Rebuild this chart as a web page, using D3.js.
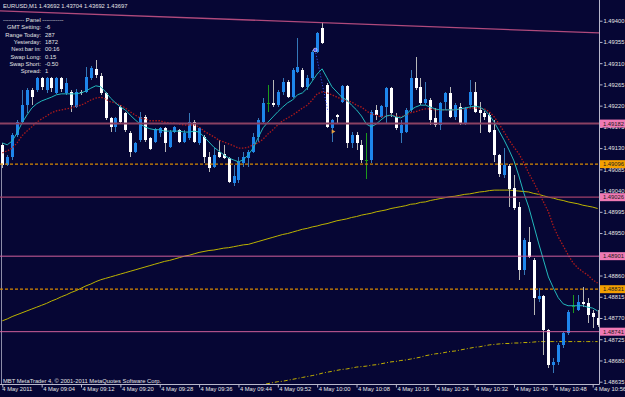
<!DOCTYPE html>
<html><head><meta charset="utf-8">
<script src="https://cdn.jsdelivr.net/npm/d3@7"></script>
<style>
html,body{margin:0;padding:0;background:#060634;overflow:hidden}
svg{display:block}
text{font-family:"Liberation Sans",Arial,sans-serif;font-size:5.8px;fill:#e4e4e4}
</style></head><body>
<svg id="c" width="625" height="397"></svg>
<script>
// ---------------- DATA ----------------
const headerText = "EURUSD,M1  1.43692 1.43704 1.43692 1.43697";
const panelTitle = "----------- Panel -----------";
const panelLabels = ["GMT Setting:", "Range Today:", "Yesterday:", "Next bar in:", "Swap Long:", "Swap Short:", "Spread:"];
const panelValues = ["-6", "287", "1872", "00:16", "0.15", "-0.50", "1"];
const copyright = "MBT MetaTrader 4, \u00A9 2001-2011 MetaQuotes Software Corp.";

const timeTicks = [0, 8, 16, 24, 32, 40, 48, 56, 64, 72, 80, 88, 96, 104, 112, 120];
const timeLabels = ["4 May 2011", "4 May 09:04", "4 May 09:12", "4 May 09:20", "4 May 09:28", "4 May 09:36",
  "4 May 09:44", "4 May 09:52", "4 May 10:00", "4 May 10:08", "4 May 10:16", "4 May 10:24", "4 May 10:32",
  "4 May 10:40", "4 May 10:48", "4 May 10:56"];
const priceTicks = [1.49400, 1.49355, 1.49310, 1.49265, 1.49220, 1.49175, 1.49130, 1.49085, 1.49040,
  1.48995, 1.48950, 1.48905, 1.48860, 1.48815, 1.48770, 1.48725, 1.48680, 1.48635];

const opens = [1.49137,1.49094,1.49111,1.49158,1.49185,1.49221,1.49253,1.49253,1.49279,1.49253,
1.49279,1.49247,1.49279,1.49247,1.49249,1.49217,1.49249,1.49249,1.49279,1.49298,
1.49283,1.49247,1.49194,1.49175,1.49217,1.49205,1.49162,1.49122,1.49147,1.49196,
1.49152,1.49143,1.49162,1.49173,1.49132,1.49164,1.49169,1.49143,1.49152,1.49185,
1.49141,1.49154,1.49111,1.49090,1.49122,1.49118,1.49109,1.49056,1.49063,1.49099,
1.49109,1.49122,1.49154,1.49185,1.49226,1.49226,1.49221,1.49249,1.49270,1.49238,
1.49291,1.49296,1.49260,1.49279,1.49334,1.49385,1.49264,1.49173,1.49200,1.49228,
1.49262,1.49141,1.49158,1.49137,1.49105,1.49105,1.49211,1.49196,1.49217,1.49257,
1.49196,1.49162,1.49164,1.49211,1.49279,1.49260,1.49226,1.49232,1.49194,1.49179,
1.49228,1.49247,1.49196,1.49217,1.49183,1.49221,1.49249,1.49211,1.49205,1.49200,
1.49169,1.49116,1.49073,1.49092,1.49046,1.49005,1.48872,1.48931,1.48893,1.48810,
1.48817,1.48745,1.48671,1.48677,1.48713,1.48738,1.48796,1.48787,1.48804,1.48802,
1.48781,1.48770];
const highs = [1.49141,1.49116,1.49162,1.49190,1.49253,1.49257,1.49257,1.49281,1.49281,1.49281,
1.49281,1.49281,1.49281,1.49279,1.49253,1.49255,1.49253,1.49302,1.49304,1.49317,
1.49289,1.49249,1.49196,1.49196,1.49221,1.49207,1.49166,1.49143,1.49207,1.49200,
1.49154,1.49173,1.49175,1.49175,1.49169,1.49177,1.49171,1.49169,1.49205,1.49190,
1.49175,1.49158,1.49122,1.49130,1.49147,1.49137,1.49111,1.49094,1.49111,1.49122,
1.49126,1.49162,1.49194,1.49236,1.49264,1.49274,1.49253,1.49279,1.49274,1.49300,
1.49363,1.49300,1.49285,1.49338,1.49376,1.49397,1.49268,1.49192,1.49202,1.49264,
1.49264,1.49164,1.49164,1.49147,1.49162,1.49211,1.49221,1.49221,1.49260,1.49260,
1.49205,1.49190,1.49215,1.49296,1.49323,1.49279,1.49270,1.49236,1.49215,1.49228,
1.49249,1.49260,1.49226,1.49226,1.49217,1.49274,1.49270,1.49228,1.49209,1.49207,
1.49190,1.49118,1.49130,1.49096,1.49073,1.49016,1.48940,1.48963,1.48897,1.48834,
1.48819,1.48747,1.48685,1.48717,1.48740,1.48787,1.48819,1.48819,1.48836,1.48813,
1.48787,1.48787];
const lows = [1.49088,1.49092,1.49105,1.49154,1.49183,1.49205,1.49221,1.49249,1.49253,1.49247,
1.49249,1.49245,1.49249,1.49243,1.49207,1.49215,1.49243,1.49247,1.49274,1.49279,
1.49243,1.49190,1.49164,1.49164,1.49183,1.49164,1.49111,1.49120,1.49143,1.49143,
1.49126,1.49141,1.49154,1.49122,1.49130,1.49162,1.49141,1.49141,1.49147,1.49141,
1.49137,1.49099,1.49079,1.49088,1.49109,1.49107,1.49056,1.49050,1.49056,1.49090,
1.49090,1.49120,1.49143,1.49183,1.49207,1.49217,1.49217,1.49243,1.49236,1.49236,
1.49289,1.49257,1.49253,1.49274,1.49332,1.49351,1.49173,1.49143,1.49183,1.49226,
1.49130,1.49130,1.49126,1.49099,1.49065,1.49099,1.49190,1.49194,1.49183,1.49196,
1.49169,1.49141,1.49162,1.49207,1.49253,1.49221,1.49221,1.49179,1.49175,1.49169,
1.49211,1.49194,1.49190,1.49179,1.49179,1.49217,1.49205,1.49162,1.49190,1.49162,
1.49101,1.49069,1.49067,1.49005,1.48999,1.48851,1.48861,1.48897,1.48776,1.48804,
1.48692,1.48664,1.48654,1.48671,1.48707,1.48734,1.48781,1.48785,1.48793,1.48760,
1.48749,1.48751];
const closes = [1.49094,1.49111,1.49158,1.49185,1.49221,1.49253,1.49238,1.49279,1.49260,1.49279,
1.49257,1.49279,1.49255,1.49268,1.49221,1.49249,1.49247,1.49281,1.49300,1.49285,
1.49247,1.49194,1.49175,1.49194,1.49185,1.49169,1.49122,1.49141,1.49196,1.49147,
1.49128,1.49171,1.49173,1.49141,1.49164,1.49175,1.49143,1.49162,1.49185,1.49143,
1.49173,1.49111,1.49088,1.49116,1.49111,1.49109,1.49058,1.49071,1.49101,1.49111,
1.49122,1.49154,1.49190,1.49226,1.49226,1.49221,1.49249,1.49270,1.49238,1.49296,
1.49302,1.49260,1.49279,1.49334,1.49374,1.49353,1.49175,1.49190,1.49196,1.49262,
1.49141,1.49158,1.49141,1.49105,1.49105,1.49207,1.49200,1.49219,1.49257,1.49205,
1.49173,1.49179,1.49211,1.49279,1.49257,1.49226,1.49234,1.49190,1.49179,1.49226,
1.49247,1.49196,1.49221,1.49183,1.49215,1.49249,1.49207,1.49205,1.49196,1.49164,
1.49116,1.49075,1.49094,1.49044,1.49003,1.48872,1.48935,1.48899,1.48813,1.48817,
1.48745,1.48671,1.48677,1.48713,1.48738,1.48783,1.48796,1.48804,1.48800,1.48776,
1.48772,1.48755];

const fastMA = [1.49141,1.49137,1.49145,1.49162,1.49183,1.49200,1.49215,1.49224,1.49230,1.49234,
1.49238,1.49243,1.49245,1.49245,1.49245,1.49245,1.49247,1.49251,1.49257,1.49262,
1.49260,1.49249,1.49236,1.49226,1.49217,1.49211,1.49200,1.49190,1.49181,1.49175,
1.49171,1.49169,1.49169,1.49166,1.49166,1.49166,1.49166,1.49164,1.49164,1.49166,
1.49164,1.49154,1.49143,1.49132,1.49124,1.49116,1.49109,1.49105,1.49101,1.49105,
1.49116,1.49130,1.49152,1.49173,1.49185,1.49196,1.49207,1.49217,1.49226,1.49232,
1.49243,1.49247,1.49257,1.49272,1.49287,1.49298,1.49279,1.49260,1.49249,1.49238,
1.49232,1.49221,1.49211,1.49198,1.49181,1.49175,1.49181,1.49190,1.49198,1.49200,
1.49196,1.49194,1.49200,1.49211,1.49217,1.49221,1.49221,1.49217,1.49213,1.49211,
1.49211,1.49211,1.49211,1.49213,1.49215,1.49217,1.49219,1.49217,1.49211,1.49200,
1.49185,1.49166,1.49147,1.49126,1.49103,1.49071,1.49035,1.49005,1.48967,1.48929,
1.48893,1.48857,1.48834,1.48813,1.48800,1.48796,1.48796,1.48796,1.48796,1.48793,
1.48791,1.48785];
const slowMA = [1.49120,1.49124,1.49130,1.49141,1.49156,1.49166,1.49175,1.49185,1.49192,1.49198,
1.49205,1.49209,1.49211,1.49213,1.49215,1.49219,1.49221,1.49226,1.49232,1.49236,
1.49238,1.49234,1.49228,1.49226,1.49221,1.49215,1.49207,1.49200,1.49194,1.49192,
1.49188,1.49188,1.49188,1.49185,1.49183,1.49183,1.49181,1.49179,1.49179,1.49179,
1.49175,1.49166,1.49160,1.49154,1.49147,1.49143,1.49139,1.49135,1.49130,1.49130,
1.49132,1.49137,1.49141,1.49149,1.49160,1.49169,1.49179,1.49188,1.49194,1.49200,
1.49207,1.49215,1.49221,1.49232,1.49245,1.49249,1.49247,1.49243,1.49238,1.49234,
1.49230,1.49228,1.49221,1.49217,1.49209,1.49202,1.49200,1.49196,1.49198,1.49200,
1.49198,1.49196,1.49200,1.49205,1.49207,1.49211,1.49213,1.49213,1.49211,1.49211,
1.49211,1.49211,1.49211,1.49213,1.49213,1.49215,1.49215,1.49215,1.49213,1.49207,
1.49196,1.49181,1.49164,1.49147,1.49132,1.49118,1.49099,1.49077,1.49058,1.49037,
1.49016,1.48995,1.48965,1.48942,1.48923,1.48904,1.48887,1.48876,1.48868,1.48861,
1.48851,1.48844];
const longMA = [1.48764,1.48768,1.48773,1.48777,1.48781,1.48785,1.48789,1.48793,1.48797,1.48801,
1.48806,1.48810,1.48815,1.48819,1.48824,1.48828,1.48833,1.48838,1.48842,1.48847,
1.48851,1.48854,1.48857,1.48860,1.48863,1.48866,1.48869,1.48872,1.48875,1.48878,
1.48881,1.48884,1.48887,1.48890,1.48892,1.48895,1.48898,1.48901,1.48903,1.48906,
1.48909,1.48911,1.48913,1.48914,1.48916,1.48918,1.48919,1.48921,1.48923,1.48925,
1.48926,1.48929,1.48932,1.48935,1.48938,1.48941,1.48944,1.48947,1.48949,1.48952,
1.48955,1.48958,1.48960,1.48963,1.48965,1.48968,1.48970,1.48973,1.48976,1.48978,
1.48980,1.48983,1.48985,1.48988,1.48990,1.48992,1.48995,1.48997,1.48999,1.49002,
1.49004,1.49006,1.49008,1.49011,1.49012,1.49015,1.49016,1.49019,1.49021,1.49023,
1.49025,1.49027,1.49028,1.49030,1.49032,1.49033,1.49035,1.49037,1.49038,1.49040,
1.49041,1.49041,1.49041,1.49041,1.49040,1.49039,1.49038,1.49037,1.49034,1.49032,
1.49029,1.49026,1.49024,1.49021,1.49019,1.49016,1.49014,1.49012,1.49009,1.49007,
1.49005,1.49002];
// second long average (dash-dot), only inside the window from bar 50 on
const longMA2 = [null,null,null,null,null,null,null,null,null,null,
null,null,null,null,null,null,null,null,null,null,
null,null,null,null,null,null,null,null,null,null,
null,null,null,null,null,null,null,null,null,null,
null,null,null,null,null,null,null,null,null,null,
1.48624,1.48626,1.48627,1.48629,1.48631,1.48633,1.48635,1.48636,1.48638,1.48640,
1.48642,1.48644,1.48646,1.48648,1.48650,1.48653,1.48655,1.48657,1.48659,1.48661,
1.48662,1.48664,1.48666,1.48667,1.48668,1.48670,1.48671,1.48673,1.48675,1.48677,
1.48678,1.48680,1.48681,1.48683,1.48685,1.48687,1.48690,1.48692,1.48694,1.48695,
1.48697,1.48699,1.48700,1.48702,1.48704,1.48706,1.48708,1.48709,1.48711,1.48713,
1.48714,1.48715,1.48716,1.48716,1.48717,1.48717,1.48718,1.48718,1.48719,1.48720,
1.48720,1.48720,1.48720,1.48720,1.48720,1.48720,1.48720,1.48720,1.48720,1.48720,
1.48720,1.48720];

const levelPrices = [1.49182, 1.49096, 1.49026, 1.48901, 1.48831, 1.48741];
const levelKinds  = ["res", "pivot", "res2", "sup", "pivot", "sup"];
const trendBars   = [-0.47, 121.3];
const trendPrices = [1.49421, 1.49374];
const tradeBars   = [63.6, 66.2];
const tradePrices = [1.49338, 1.49207];
const exitBar = 67.2, exitPrice = 1.49165;

// ---------------- STYLES ----------------
const BG = "#060634";
const PLOT_W = 599, PLOT_B = 384;
const levelStyle = {
  res:   {stroke: "#8a4062", w: 2,   dash: null,  box: "#f07ab4"},
  res2:  {stroke: "#a0406a", w: 1.3, dash: null,  box: "#f07ab4"},
  sup:   {stroke: "#d0609a", w: 1,   dash: null,  box: "#f07ab4"},
  pivot: {stroke: "#d88a00", w: 1.2, dash: "3,2", box: "#f5a000"}
};

// ---------------- CHART ----------------
const svg = d3.select("#c");
svg.append("rect").attr("width", 625).attr("height", 397).attr("fill", BG);

const x = d3.scaleLinear().domain([0, 121]).range([2.3, 597.6]);
const y = d3.scaleLinear().domain([1.49400, 1.48635]).range([20.7, 381.7]);

svg.append("defs").append("clipPath").attr("id", "plot")
  .append("rect").attr("x", 0).attr("y", 0).attr("width", PLOT_W).attr("height", PLOT_B);
const g = svg.append("g").attr("clip-path", "url(#plot)");

// left vertical line
g.append("line").attr("x1", 1.5).attr("x2", 1.5).attr("y1", y(1.49094)).attr("y2", PLOT_B)
  .attr("stroke", "#8c8ca8").attr("stroke-width", 1);

// long averages
const lineGen = d3.line().defined(d => d != null).x((d, i) => x(i)).y(d => y(d));
g.append("path").attr("d", lineGen(longMA)).attr("fill", "none")
  .attr("stroke", "#bdb400").attr("stroke-width", 1);
g.append("path").attr("d", lineGen(longMA2)).attr("fill", "none")
  .attr("stroke", "#c2b000").attr("stroke-width", 1).attr("stroke-dasharray", "4,2,1,2");

// candles
const bars = d3.range(opens.length);
const cg = g.append("g").attr("shape-rendering", "crispEdges");
bars.forEach(i => {
  const o = opens[i], c = closes[i], h = highs[i], l = lows[i];
  const cx = Math.round(x(i)) + 0.5;
  let body, wick;
  if (c > o) { body = "#1e86ec"; wick = "#3578b8"; }
  else if (c < o) { body = "#ffffff"; wick = "#b8b8b8"; }
  else { body = "#1c9a1c"; wick = "#1c9a1c"; }
  cg.append("line").attr("x1", cx).attr("x2", cx).attr("y1", y(h)).attr("y2", y(l))
    .attr("stroke", wick).attr("stroke-width", 1);
  const top = y(Math.max(o, c)), bot = y(Math.min(o, c));
  cg.append("rect").attr("x", cx - 1.5).attr("y", top).attr("width", 3)
    .attr("height", Math.max(1, bot - top)).attr("fill", body);
});

// trade markers
g.append("path").attr("d", d3.line().x(d => x(d[0])).y(d => y(d[1]))(tradeBars.map((b, k) => [b, tradePrices[k]])))
  .attr("fill", "none").attr("stroke", "#3a5cff").attr("stroke-width", 1).attr("stroke-dasharray", "1,2");
g.append("circle").attr("cx", x(tradeBars[0])).attr("cy", y(tradePrices[0])).attr("r", 1.8)
  .attr("fill", "#5a5cff").attr("stroke", "#ffffff").attr("stroke-width", 0.6);
g.append("path").attr("d", d3.symbol().type(d3.symbolTriangle).size(8)())
  .attr("transform", `translate(${x(exitBar)},${y(exitPrice)}) rotate(90)`).attr("fill", "#e6a040");

// moving averages
g.append("path").attr("d", lineGen(slowMA)).attr("fill", "none")
  .attr("stroke", "#b01a1a").attr("stroke-width", 1.3).attr("stroke-dasharray", "1.5,1.5");
g.append("path").attr("d", lineGen(fastMA)).attr("fill", "none")
  .attr("stroke", "#22b8bc").attr("stroke-width", 1);

// horizontal levels
levelPrices.forEach((p, k) => {
  const s = levelStyle[levelKinds[k]];
  g.append("line").attr("x1", 0).attr("x2", PLOT_W).attr("y1", y(p)).attr("y2", y(p))
    .attr("stroke", s.stroke).attr("stroke-width", s.w).attr("stroke-dasharray", s.dash);
});
// trend line
g.append("line").attr("x1", x(trendBars[0])).attr("x2", x(trendBars[1]))
  .attr("y1", y(trendPrices[0])).attr("y2", y(trendPrices[1]))
  .attr("stroke", "#b04a7c").attr("stroke-width", 1.3);

// axes frame
svg.append("line").attr("x1", PLOT_W + 0.5).attr("x2", PLOT_W + 0.5).attr("y1", 0).attr("y2", PLOT_B + 0.5)
  .attr("stroke", "#b8b8cc").attr("stroke-width", 1);
svg.append("line").attr("x1", 0).attr("x2", PLOT_W + 0.5).attr("y1", PLOT_B + 0.5).attr("y2", PLOT_B + 0.5)
  .attr("stroke", "#b8b8cc").attr("stroke-width", 1);

// right price axis
const ya = svg.append("g").attr("transform", `translate(${PLOT_W + 0.5},0)`)
  .call(d3.axisRight(y).tickValues(priceTicks).tickSize(3).tickPadding(1).tickFormat(d3.format(".5f")));
ya.select(".domain").remove();
ya.selectAll("line").attr("stroke", "#b8b8cc");
ya.selectAll("text").attr("fill", "#e4e4e4").style("font-size", "5.8px")
  .style("font-family", '"Liberation Sans",Arial,sans-serif');

// level price boxes
levelPrices.forEach((p, k) => {
  const s = levelStyle[levelKinds[k]];
  svg.append("rect").attr("x", PLOT_W + 1).attr("y", y(p) - 4).attr("width", 26).attr("height", 8)
    .attr("fill", s.box);
  svg.append("text").attr("x", PLOT_W + 4).attr("y", y(p)).attr("dy", "0.34em")
    .style("fill", "#202020").text(d3.format(".5f")(p));
});

// bottom time axis
const xa = svg.append("g").attr("transform", `translate(0,${PLOT_B + 0.5})`)
  .call(d3.axisBottom(x).tickValues(timeTicks).tickSize(3).tickFormat((d, i) => timeLabels[i]));
xa.select(".domain").remove();
xa.selectAll("line").attr("stroke", "#b8b8cc");
xa.selectAll("text").attr("text-anchor", "start").attr("dx", "1").attr("y", 2.5)
  .attr("fill", "#e4e4e4").style("font-size", "5.8px")
  .style("font-family", '"Liberation Sans",Arial,sans-serif');
xa.selectAll(".tick").filter((d, i) => i === 0).select("text").attr("dx", "-0.5");

// header and panel
svg.append("text").attr("x", 3).attr("y", 8.3).text(headerText);
svg.append("text").attr("x", 3).attr("y", 22).text(panelTitle);
panelLabels.forEach((t, k) => {
  const yy = 29.4 + k * 7.3;
  svg.append("text").attr("x", 41).attr("y", yy).attr("text-anchor", "end").text(t);
  svg.append("text").attr("x", 45).attr("y", yy).text(panelValues[k]);
});
svg.append("text").attr("x", 3).attr("y", 383).text(copyright);
</script>
</body></html>
